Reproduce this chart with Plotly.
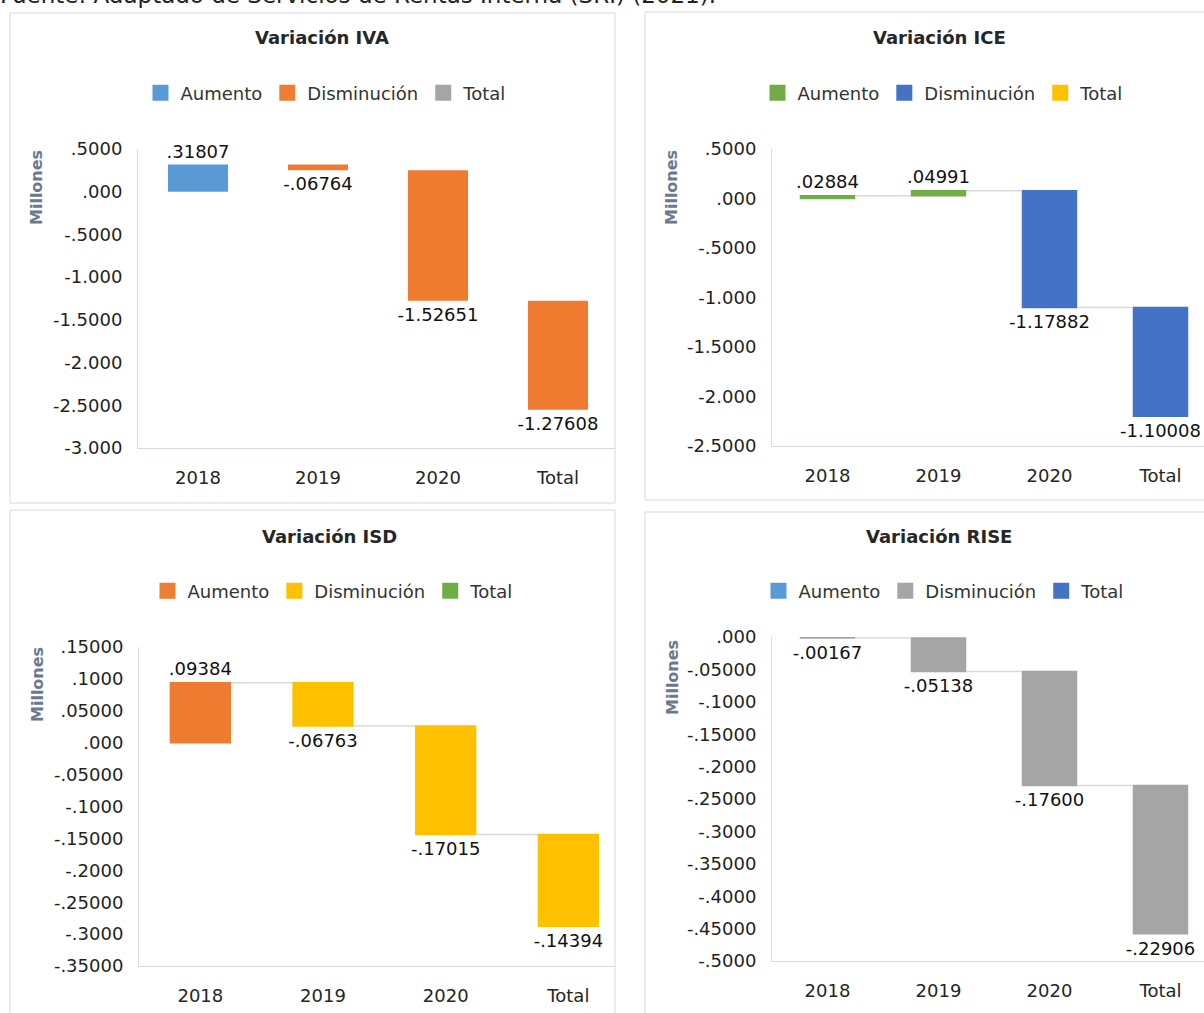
import plotly.graph_objects as go

W, H = 1204, 1013

def px(x):
    return x / W

def py(y):
    return 1 - y / H

# ---------------- DATA ----------------
categories = ["2018", "2019", "2020", "Total"]

iva_values = [0.31807, -0.06764, -1.52651, -1.27608]
iva_labels = [".31807", "-.06764", "-1.52651", "-1.27608"]
iva_tickvals = [0.5, 0, -0.5, -1.0, -1.5, -2.0, -2.5, -3.0]
iva_ticktext = [".5000", ".000", "-.5000", "-1.000", "-1.5000", "-2.000", "-2.5000", "-3.000"]

ice_values = [0.02884, 0.04991, -1.17882, -1.10008]
ice_labels = [".02884", ".04991", "-1.17882", "-1.10008"]
ice_tickvals = [0.5, 0, -0.5, -1.0, -1.5, -2.0, -2.5]
ice_ticktext = [".5000", ".000", "-.5000", "-1.000", "-1.5000", "-2.000", "-2.5000"]

isd_values = [0.09384, -0.06763, -0.17015, -0.14394]
isd_labels = [".09384", "-.06763", "-.17015", "-.14394"]
isd_tickvals = [0.15, 0.10, 0.05, 0, -0.05, -0.10, -0.15, -0.20, -0.25, -0.30, -0.35]
isd_ticktext = [".15000", ".1000", ".05000", ".000", "-.05000", "-.1000", "-.15000",
                "-.2000", "-.25000", "-.3000", "-.35000"]

rise_values = [-0.00167, -0.05138, -0.17600, -0.22906]
rise_labels = ["-.00167", "-.05138", "-.17600", "-.22906"]
rise_tickvals = [0, -0.05, -0.10, -0.15, -0.20, -0.25, -0.30, -0.35, -0.40, -0.45, -0.50]
rise_ticktext = [".000", "-.05000", "-.1000", "-.15000", "-.2000", "-.25000", "-.3000",
                 "-.35000", "-.4000", "-.45000", "-.5000"]

legend_names = ["Aumento", "Disminución", "Total"]

titles = ["Variación IVA", "Variación ICE", "Variación ISD", "Variación RISE"]
source_text = "Fuente: Adaptado de Servicios de Rentas Interna (SRI) (2021)."

# ---------------- STYLE ----------------
FONT = "DejaVu Sans, Verdana, sans-serif"
AXIS_LINE = "#D6DCE5"
TICK_COLOR = "#1F1F1F"

panels = [
    dict(values=iva_values, labels=iva_labels, tv=iva_tickvals, tt=iva_ticktext,
         inc="#5B9BD5", dec="#EE7B30", leg=["#5B9BD5", "#ED7D31", "#A5A5A5"],
         connector=False,
         xdom=(138, 615), ydom=(448, 149), yr=(-3.0, 0.5), xr=(-0.5, 3.475),
         title_xy=(322, 38), legend_xy=(326, 93), ytitle_xy=(37, 188)),
    dict(values=ice_values, labels=ice_labels, tv=ice_tickvals, tt=ice_ticktext,
         inc="#70AD47", dec="#4472C4", leg=["#70AD47", "#4472C4", "#FFC000"],
         connector=True,
         xdom=(772, 1204), ydom=(446, 149), yr=(-2.5, 0.5), xr=(-0.5, 3.392),
         title_xy=(939, 38), legend_xy=(943, 93), ytitle_xy=(672, 188)),
    dict(values=isd_values, labels=isd_labels, tv=isd_tickvals, tt=isd_ticktext,
         inc="#EE7B30", dec="#FFC000", leg=["#ED7D31", "#FFC000", "#70AD47"],
         connector=True,
         xdom=(139, 615), ydom=(966, 647), yr=(-0.35, 0.15), xr=(-0.5, 3.38),
         title_xy=(329, 536), legend_xy=(333, 591), ytitle_xy=(37, 685)),
    dict(values=rise_values, labels=rise_labels, tv=rise_tickvals, tt=rise_ticktext,
         inc="#5B9BD5", dec="#A5A5A5", leg=["#5B9BD5", "#A5A5A5", "#4472C4"],
         connector=True,
         xdom=(772, 1204), ydom=(961, 637), yr=(-0.5, 0.0), xr=(-0.5, 3.392),
         title_xy=(939, 536), legend_xy=(944, 591), ytitle_xy=(672, 678)),
]

fig = go.Figure()
annotations = []
layout_axes = {}

for i, p in enumerate(panels):
    n = "" if i == 0 else str(i + 1)
    xa, ya = "x" + n, "y" + n
    leg = "legend" + n

    fig.add_trace(go.Waterfall(
        x=categories, y=p["values"], measure=["relative"] * len(categories),
        text=p["labels"], textposition="outside", constraintext="none",
        cliponaxis=False,
        textfont=dict(family=FONT, size=18, color="#111111"),
        increasing=dict(marker=dict(color=p["inc"])),
        decreasing=dict(marker=dict(color=p["dec"])),
        connector=dict(visible=p["connector"], mode="between",
                       line=dict(color="#D9D9D9", width=1.5)),
        width=0.5, showlegend=False, xaxis=xa, yaxis=ya, hoverinfo="x+y",
    ))
    for name, col in zip(legend_names, p["leg"]):
        fig.add_trace(go.Scatter(x=[None], y=[None], name=name, mode="markers",
                                 marker=dict(symbol="square", size=16, color=col),
                                 xaxis=xa, yaxis=ya, legend=leg, showlegend=True))

    layout_axes["xaxis" + n] = dict(
        domain=[px(p["xdom"][0]), px(p["xdom"][1])], anchor=ya,
        type="category", range=list(p["xr"]), showline=True, linecolor=AXIS_LINE,
        linewidth=1, showgrid=False, zeroline=False, ticks="",
        tickfont=dict(family=FONT, size=18, color="#262626"),
        ticklabelstandoff=13, fixedrange=True, automargin=False,
    )
    layout_axes["yaxis" + n] = dict(
        domain=[py(p["ydom"][0]), py(p["ydom"][1])], anchor=xa,
        range=list(p["yr"]), tickmode="array", tickvals=p["tv"], ticktext=p["tt"],
        showline=True, linecolor=AXIS_LINE, linewidth=1, showgrid=False,
        zeroline=False, ticks="", tickfont=dict(family=FONT, size=18, color=TICK_COLOR),
        ticklabelstandoff=11, fixedrange=True, automargin=False,
    )
    layout_axes[leg] = dict(
        orientation="h", x=px(p["legend_xy"][0]), xanchor="center",
        y=py(p["legend_xy"][1]), yanchor="middle", bgcolor="rgba(0,0,0,0)",
        font=dict(family=FONT, size=18, color="#333333"), itemwidth=30,
        itemsizing="trace", itemclick=False, itemdoubleclick=False,
    )
    annotations.append(dict(
        text="<b>%s</b>" % titles[i], x=px(p["title_xy"][0]), y=py(p["title_xy"][1]),
        xref="paper", yref="paper", xanchor="center", yanchor="middle",
        showarrow=False, font=dict(family=FONT, size=18, color="#262626"),
    ))
    annotations.append(dict(
        text="<b>Millones</b>", x=px(p["ytitle_xy"][0]), y=py(p["ytitle_xy"][1]),
        xref="paper", yref="paper", xanchor="center", yanchor="middle",
        textangle=-90, showarrow=False, font=dict(family=FONT, size=16, color="#6A7890"),
    ))

annotations.append(dict(
    text=source_text, x=px(-2), y=py(-5), xref="paper", yref="paper",
    xanchor="left", yanchor="middle", showarrow=False,
    font=dict(family=FONT, size=23, color="#222222"),
))

panel_boxes = [(10, 13, 615, 503), (645, 12, 1210, 500), (10, 510, 615, 1020), (645, 512, 1210, 1020)]
shapes = [dict(type="rect", xref="paper", yref="paper", x0=px(a), y0=py(b), x1=px(c), y1=py(d),
               line=dict(color="#D9D9D9", width=1), fillcolor="rgba(0,0,0,0)", layer="below")
          for a, b, c, d in panel_boxes]

fig.update_layout(
    width=W, height=H, autosize=False,
    margin=dict(l=0, r=0, t=0, b=0, pad=0, autoexpand=False),
    paper_bgcolor="white", plot_bgcolor="white",
    font=dict(family=FONT), annotations=annotations, shapes=shapes,
    waterfallgap=0.5, **layout_axes,
)

fig.write_html(
    "out.html",
    config={"displayModeBar": False},
    post_script=(
        "document.documentElement.style.overflow='hidden';"
        "document.body.style.margin='0';document.body.style.overflow='hidden';"
    ),
)
